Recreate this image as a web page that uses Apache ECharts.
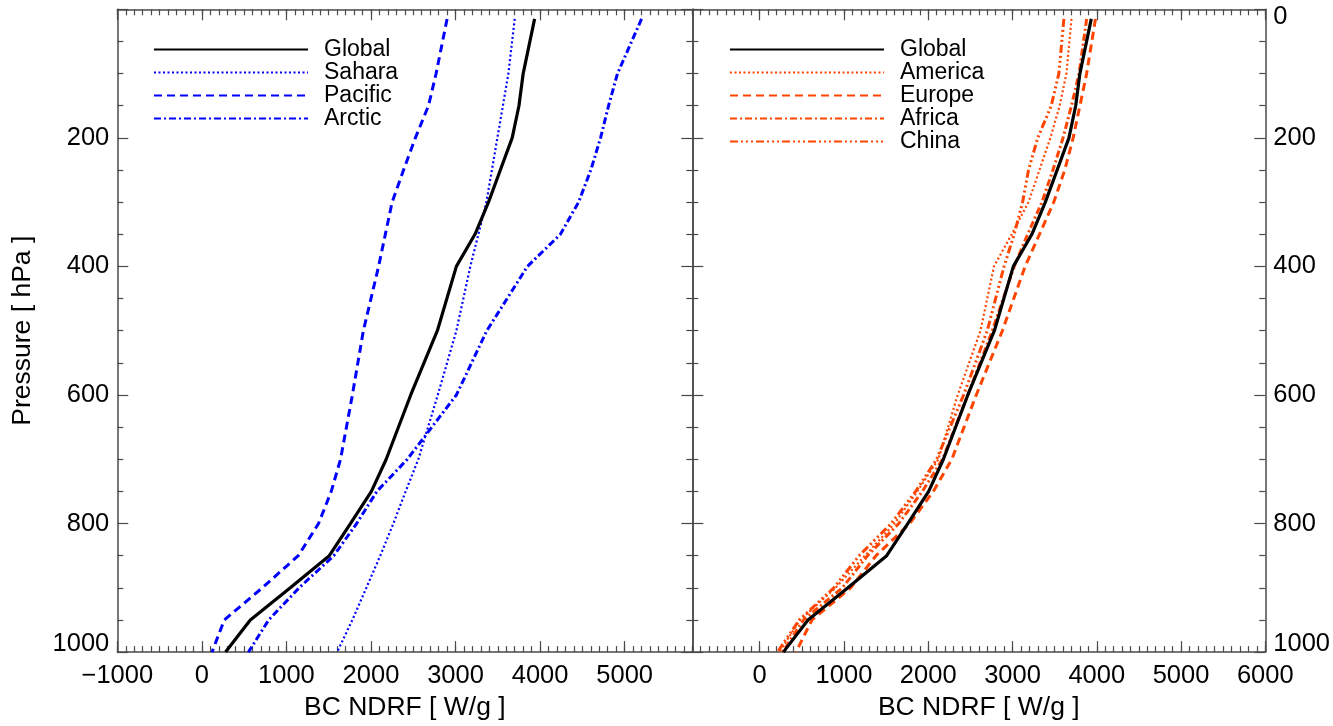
<!DOCTYPE html>
<html>
<head>
<meta charset="utf-8">
<script src="https://cdn.jsdelivr.net/npm/echarts@6/dist/echarts.min.js"></script>
<style>
  html, body { margin: 0; padding: 0; background: #fff; }
  #chart { width: 1333px; height: 726px; }
</style>
</head>
<body>
<div id="chart"></div>
<script>
// Pressure levels (hPa) shared by all profiles
const pressure = [15, 100, 150, 200, 250, 300, 350, 400, 500, 600, 700, 750, 800, 850, 900, 950, 1000];

// BC normalized direct radiative forcing (W/g) per level
const globalNdrf  = [3935, 3800, 3750, 3670, 3530, 3390, 3230, 3010, 2785, 2470, 2180, 2005, 1757, 1507, 1046, 573, 280];
const saharaNdrf  = [3700, 3625, 3560, 3495, 3430, 3365, 3270, 3175, 3010, 2790, 2560, 2410, 2265, 2110, 1945, 1780, 1600];
const pacificNdrf = [2900, 2770, 2680, 2525, 2385, 2250, 2170, 2090, 1910, 1780, 1640, 1530, 1380, 1140, 715, 265, 120];
const arcticNdrf  = [5200, 4915, 4810, 4715, 4600, 4455, 4240, 3850, 3370, 3010, 2430, 2070, 1830, 1560, 1150, 790, 550];

const americaNdrf = [3700, 3640, 3560, 3450, 3320, 3190, 2990, 2780, 2620, 2350, 2120, 1870, 1600, 1250, 900, 480, 230];
const europeNdrf  = [3985, 3880, 3800, 3720, 3620, 3490, 3320, 3150, 2880, 2570, 2280, 2060, 1780, 1380, 1080, 620, 430];
const africaNdrf  = [3880, 3790, 3700, 3600, 3480, 3350, 3180, 3020, 2760, 2470, 2170, 1930, 1650, 1280, 980, 520, 270];
const chinaNdrf   = [3610, 3550, 3460, 3300, 3190, 3120, 3020, 2900, 2700, 2420, 2100, 1850, 1560, 1180, 880, 470, 210];

// Axis tick values
const xMajorLeft  = [-1000, 0, 1000, 2000, 3000, 4000, 5000];
const xMajorRight = [0, 1000, 2000, 3000, 4000, 5000, 6000];
const xRangeLeft  = [-1000, 5800];
const xRangeRight = [-800, 6000];
const yTicks = [0, 200, 400, 600, 800, 1000];

const xTitle = 'BC NDRF [ W/g ]';
const yTitle = 'Pressure [ hPa ]';

const FONT = '"Liberation Sans", Arial, Helvetica, sans-serif';
const AXIS_COLOR = '#4a4a4a';
const BLUE = '#0000ff';
const ORANGE = '#ff4500';
const TICK_FS = 25.5;
const TITLE_FS = 26.5;

const chart = echarts.init(document.getElementById('chart'), null, { renderer: 'canvas' });

const GRID_TOP = 9.3, GRID_H = 647.4, GRID_W = 575;
const grids = [
  { left: 117.3, top: GRID_TOP, width: GRID_W, height: GRID_H },
  { left: 692.3, top: GRID_TOP, width: GRID_W, height: GRID_H }
];

function fmtX(v) {
  if (v % 1000 !== 0) return '';
  return v < 0 ? '\u2212' + Math.abs(v) : String(v);
}

// Major + minor x axes on bottom and top of a panel
function xAxesFor(gridIndex, range, majors, withTitle) {
  const common = { type: 'value', gridIndex, min: range[0], max: range[1], splitLine: { show: false } };
  return [
    Object.assign({}, common, {
      position: 'bottom',
      axisLine: { show: true, onZero: false, lineStyle: { color: AXIS_COLOR, width: 1.5 } },
      axisTick: { show: true, inside: true, length: 11, customValues: majors, lineStyle: { color: AXIS_COLOR, width: 1.2 } },
      axisLabel: { show: true, customValues: majors, formatter: fmtX, margin: 11, fontSize: TICK_FS, color: '#000', fontFamily: FONT },
      name: withTitle ? xTitle : '',
      nameLocation: 'middle',
      nameGap: 37,
      nameTextStyle: { fontSize: TITLE_FS, color: '#000', fontFamily: FONT }
    }),
    Object.assign({}, common, {
      position: 'bottom', interval: 100,
      axisLine: { show: false, onZero: false },
      axisTick: { show: true, inside: true, length: 6, lineStyle: { color: AXIS_COLOR, width: 1.2 } },
      axisLabel: { show: false }
    }),
    Object.assign({}, common, {
      position: 'top',
      axisLine: { show: true, onZero: false, lineStyle: { color: AXIS_COLOR, width: 1.5 } },
      axisTick: { show: true, inside: true, length: 11, customValues: majors, lineStyle: { color: AXIS_COLOR, width: 1.2 } },
      axisLabel: { show: false }
    }),
    Object.assign({}, common, {
      position: 'top', interval: 100,
      axisLine: { show: false, onZero: false },
      axisTick: { show: true, inside: true, length: 6, lineStyle: { color: AXIS_COLOR, width: 1.2 } },
      axisLabel: { show: false }
    })
  ];
}

const labelRich = {
  n: { fontSize: TICK_FS, fontFamily: FONT, color: '#000' },
  up: { fontSize: TICK_FS, fontFamily: FONT, color: '#000', padding: [0, 0, 16, 0] },
  down: { fontSize: TICK_FS, fontFamily: FONT, color: '#000', padding: [16, 0, 0, 0] }
};

function yAxisFor(gridIndex, position, labels, showZero, withTitle) {
  return {
    type: 'value', gridIndex, position, inverse: true,
    min: yTicks[0], max: yTicks[yTicks.length - 1], interval: 200,
    splitLine: { show: false },
    axisLine: { show: true, onZero: false, lineStyle: { color: AXIS_COLOR, width: 1.5 } },
    axisTick: { show: true, inside: true, length: 11, lineStyle: { color: AXIS_COLOR, width: 1.2 } },
    minorTick: { show: true, splitNumber: 4, length: 6, lineStyle: { color: AXIS_COLOR, width: 1.2 } },
    axisLabel: {
      show: labels, margin: 8, fontSize: TICK_FS, fontFamily: FONT, color: '#000',
      formatter: function (v) {
        if (v === 0) return showZero ? '{down|0}' : '';
        if (v === 1000) return '{up|1000}';
        return '{n|' + v + '}';
      },
      rich: labelRich
    },
    name: withTitle ? yTitle : '',
    nameLocation: 'middle',
    nameRotate: 90,
    nameGap: 81,
    nameTextStyle: { fontSize: TITLE_FS, color: '#000', fontFamily: FONT }
  };
}

function profile(name, values, xIdx, yIdx, color, width, dash) {
  return {
    name, type: 'line', xAxisIndex: xIdx, yAxisIndex: yIdx,
    data: values.map((v, i) => [v, pressure[i]]),
    symbol: 'none', smooth: false, silent: true, animation: false,
    lineStyle: { color, width, type: dash, cap: 'butt' },
    itemStyle: { color },
    z: name === 'Global' ? 5 : 3
  };
}

const DOT = [2, 2.5];
const DASH = [8, 5];
const DASHDOT = [7, 3, 2, 3];
const DASH3DOT = [8, 3, 2, 3, 2, 3, 2, 3];

const legendCommon = {
  orient: 'vertical', padding: 0, itemWidth: 154, itemHeight: 14, itemGap: 0,
  selectedMode: false,
  itemStyle: { opacity: 0 },
  textStyle: { fontSize: 23, fontFamily: FONT, color: '#000', padding: [0, 0, 0, 11] }
};

const option = {
  backgroundColor: '#fff',
  animation: false,
  grid: grids,
  xAxis: [].concat(
    xAxesFor(0, xRangeLeft, xMajorLeft, true),
    xAxesFor(1, xRangeRight, xMajorRight, true)
  ),
  yAxis: [
    yAxisFor(0, 'left', true, false, true),
    yAxisFor(0, 'right', false, false, false),
    yAxisFor(1, 'left', false, false, false),
    yAxisFor(1, 'right', true, true, false)
  ],
  legend: [
    Object.assign({}, legendCommon, { left: 153, top: 38, data: ['Global', 'Sahara', 'Pacific', 'Arctic'] }),
    Object.assign({}, legendCommon, { left: 729, top: 38, data: ['Global', 'America', 'Europe', 'Africa', 'China'] })
  ],
  series: [
    profile('Sahara', saharaNdrf, 0, 0, BLUE, 2.2, DOT),
    profile('Pacific', pacificNdrf, 0, 0, BLUE, 3, DASH),
    profile('Arctic', arcticNdrf, 0, 0, BLUE, 3, DASHDOT),
    profile('Global', globalNdrf, 0, 0, '#000', 3.2, 'solid'),
    profile('America', americaNdrf, 4, 2, ORANGE, 2.2, DOT),
    profile('Europe', europeNdrf, 4, 2, ORANGE, 3, DASH),
    profile('Africa', africaNdrf, 4, 2, ORANGE, 3, DASHDOT),
    profile('China', chinaNdrf, 4, 2, ORANGE, 3, DASH3DOT),
    profile('Global', globalNdrf, 4, 2, '#000', 3.2, 'solid')
  ]
};

chart.setOption(option);
</script>
</body>
</html>
